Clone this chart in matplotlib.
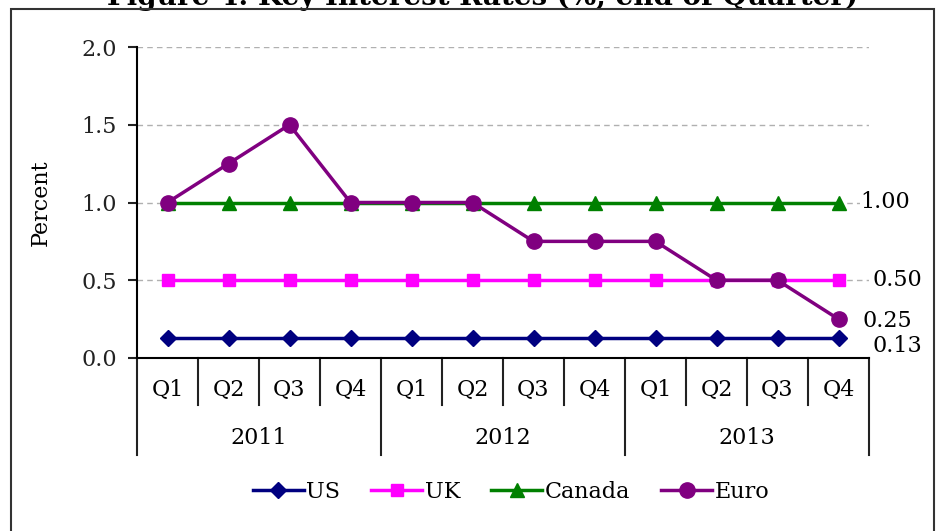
import matplotlib
matplotlib.use("Agg")
import matplotlib.pyplot as plt
from matplotlib.patches import Rectangle

plt.rcParams['font.family'] = ['DejaVu Serif']

quarters = ["Q1", "Q2", "Q3", "Q4"] * 3
years = ["2011", "2012", "2013"]
us = [0.13] * 12
uk = [0.50] * 12
canada = [1.00] * 12
euro = [1.00, 1.25, 1.50, 1.00, 1.00, 1.00, 0.75, 0.75, 0.75, 0.50, 0.50, 0.25]

fs = 16
fig = plt.figure(figsize=(9.4, 5.31), dpi=100)
ax = fig.add_axes([137 / 940, 1 - 358 / 531, 732 / 940, 311 / 531])

x = list(range(len(quarters)))
series = [
    ("US", us, "#000080", "D", 8),
    ("UK", uk, "#ff00ff", "s", 8.5),
    ("Canada", canada, "#008000", "^", 9.5),
    ("Euro", euro, "#800080", "o", 11),
]
for name, vals, col, mk, ms in series:
    ax.plot(x, vals, color=col, marker=mk, markersize=ms, lw=2.5,
            label=name, clip_on=False, zorder=3)

ax.set_xlim(-0.5, 11.5)
ax.set_ylim(0, 2.0)
ax.set_yticks([0, 0.5, 1.0, 1.5, 2.0])
ax.set_yticklabels(["%.1f" % v for v in [0, 0.5, 1.0, 1.5, 2.0]])
ax.tick_params(axis='y', direction='out', length=6.5, width=1.5, pad=8,
               labelsize=fs, colors='#222222')
ax.set_xticks([])
for y in [0.5, 1.0, 1.5, 2.0]:
    ax.axhline(y, color='#b0b0b0', lw=1, ls=(0, (4, 3)), zorder=1)

for s in ['top', 'right']:
    ax.spines[s].set_visible(False)
ax.spines['left'].set_linewidth(1.5)
ax.spines['bottom'].set_linewidth(1.5)
ax.set_ylabel("Percent", fontsize=fs)
ax.yaxis.set_label_coords(-0.116, 0.5)

# two-level category axis under the plot
tr = ax.get_xaxis_transform()
for k in range(13):
    bottom = -0.312 if k % 4 == 0 else -0.151
    ax.plot([k - 0.5, k - 0.5], [0, bottom], color='#222222', lw=1.5,
            transform=tr, clip_on=False)
for i, q in enumerate(quarters):
    ax.text(i, -0.103, q, transform=tr, ha='center', va='center', fontsize=fs)
for j, yr in enumerate(years):
    ax.text(j * 4 + 1.5, -0.257, yr, transform=tr, ha='center', va='center',
            fontsize=fs)

# end-of-period values
last = len(quarters) - 1
ends = [(canada[last], 22, 0), (uk[last], 34, 0), (euro[last], 24, -2), (us[last], 34, -8)]
for v, dx, dy in ends:
    ax.annotate("%.2f" % v, (last, v), xytext=(dx * 0.72, dy * 0.72),
                textcoords='offset points', ha='left', va='center',
                fontsize=fs, annotation_clip=False,
                bbox=dict(facecolor='white', edgecolor='none', pad=0.5))

fig.legend(loc='center', bbox_to_anchor=(511 / 940, 1 - 492 / 531), ncol=4,
           frameon=False, fontsize=fs, handlelength=2.3, handletextpad=0.1,
           columnspacing=1.4)

fig.text(0.513, 1 - 5 / 531, "Figure 4: Key Interest Rates (%, end of Quarter)",
         ha='center', va='baseline', fontsize=20, fontweight='bold')

fig.patches.append(Rectangle((11 / 940, -0.02), 923 / 940, 1 - 9 / 531 + 0.02,
                             transform=fig.transFigure, fill=False,
                             edgecolor='#333333', lw=1.5, zorder=5))

fig.savefig("out.png", dpi=100)
